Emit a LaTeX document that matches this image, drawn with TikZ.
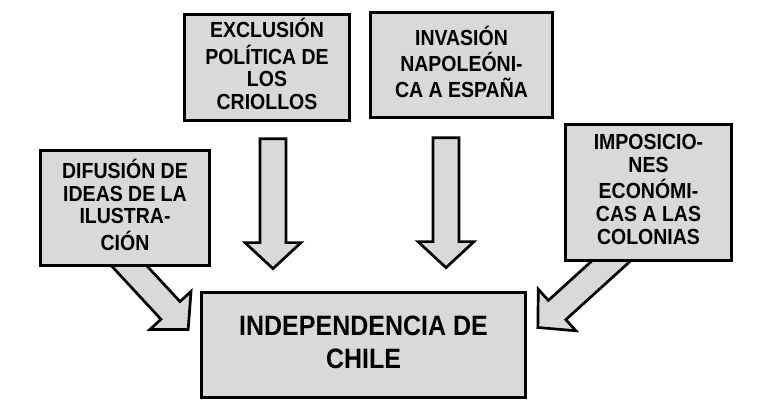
\documentclass[tikz,border=0pt]{standalone}
\usepackage{fontspec}
\usepackage{graphicx}
\setmainfont{Liberation Sans}
\usetikzlibrary{calc, backgrounds}

\definecolor{cajagris}{RGB}{217,217,217}
\tikzset{
  causa/.style={draw, line width=2.7pt, fill=cajagris, align=center,
    font=\bfseries\fontsize{19.5}{20.3}\selectfont},
  efecto/.style={causa, font=\bfseries\fontsize{25}{29.7}\selectfont},
  flecha/.style={draw, line width=2.7pt, fill=cajagris, line join=miter}
}
% text a bit taller than wide, as in the original
\newcommand{\alto}[1]{\scalebox{1}[1.12]{\begin{tabular}{@{}c@{}}#1\end{tabular}}}
% block arrow from #1 to #2 (tip)
\newcommand{\blockarrow}[2]{%
  \coordinate (hb) at ($(#2)!26pt!(#1)$);
  \path[flecha] ($(#1)!13pt!90:(#2)$) -- ($(hb)!13pt!90:(#2)$)
    -- ($(hb)!28pt!90:(#2)$) -- (#2) -- ($(hb)!28pt!-90:(#2)$)
    -- ($(hb)!13pt!-90:(#2)$) -- ($(#1)!13pt!-90:(#2)$) -- cycle;
}

\begin{document}
\begin{tikzpicture}[x=1pt, y=-1pt]
  \useasboundingbox (0,0) rectangle (774,414);
  % causes
  \node[causa, minimum width=165.3pt, minimum height=106.3pt] (excl) at (267,67.5)
    {\alto{EXCLUSIÓN\\POLÍTICA DE\\LOS\\CRIOLLOS}};
  \node[causa, minimum width=182.3pt, minimum height=105.3pt] (inv) at (461.5,65)
    {\raisebox{-4pt}{\alto{INVASIÓN\\NAPOLEÓNI-\\CA A ESPAÑA}}};
  \node[causa, minimum width=169.3pt, minimum height=115.3pt] (dif) at (125,208)
    {\alto{DIFUSIÓN DE\\IDEAS DE LA\\ILUSTRA-\\CIÓN}};
  \node[causa, minimum width=166.3pt, minimum height=136.3pt] (imp) at (648.5,192.5)
    {\alto{IMPOSICIO-\\NES\\ECONÓMI-\\CAS A LAS\\COLONIAS}};
  % effect
  \node[efecto, minimum width=324.3pt, minimum height=105.3pt] (chile) at (363.5,345)
    {\alto{INDEPENDENCIA DE\\CHILE}};
  % arrows behind the boxes
  \coordinate (a1) at ($(excl.south)+(6,16.85)$);
  \coordinate (b1) at ($(chile.north)+(-90.5,-22.35)$);
  \coordinate (a2) at ($(inv.south)+(-15.5,18.85)$);
  \coordinate (b2) at ($(chile.north)+(82.5,-23.35)$);
  \coordinate (a3) at ($(dif.south)+(-17.6,-24.65)$);
  \coordinate (b3) at ($(chile.west)+(-11.85,-15.5)$);
  \coordinate (a4) at ($(imp.south)+(-15.5,-20.85)$);
  \coordinate (b4) at ($(chile.east)+(10.85,-17.5)$);
  \begin{scope}[on background layer]
    \blockarrow{a1}{b1}
    \blockarrow{a2}{b2}
    \blockarrow{a3}{b3}
    \blockarrow{a4}{b4}
  \end{scope}
\end{tikzpicture}
\end{document}
